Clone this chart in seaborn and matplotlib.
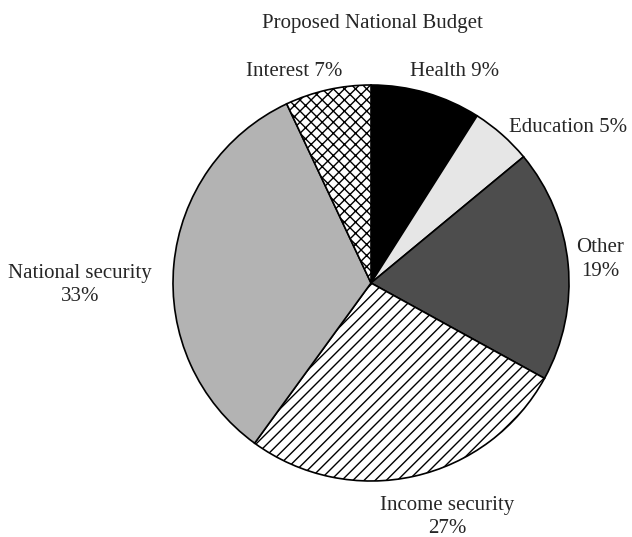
import matplotlib
matplotlib.use("Agg")
import matplotlib.pyplot as plt
import seaborn as sns

# budget shares, clockwise from 12 o'clock
categories = ["Health", "Education", "Other", "Income security", "National security", "Interest"]
shares = [9, 5, 19, 27, 33, 7]
colors = ["#000000", "#e6e6e6", "#4d4d4d", "#ffffff", "#b3b3b3", "#ffffff"]
hatches = ["", "", "", "///", "", "xxx"]
label_texts = ["Health 9%", "Education 5%", "Other\n19%", "Income security\n27%",
               "National security\n33%", "Interest 7%"]
title = "Proposed National Budget"

sns.set_style("white")
plt.rcParams["font.family"] = ["Liberation Serif", "DejaVu Serif"]
plt.rcParams["hatch.linewidth"] = 1.0


def main():
    fig = plt.figure(figsize=(6.32, 5.37), dpi=100)
    ax = fig.add_axes([0, 0, 1, 1])
    wedges, _ = ax.pie(shares, colors=colors, startangle=90, counterclock=False,
                       wedgeprops=dict(edgecolor="black", linewidth=1.2))
    for w, h in zip(wedges, hatches):
        if h:
            w.set_hatch(h)

    # label placement (data units, pie radius = 1)
    label_pos = [(0.424, 1.07), (0.997, 0.783), (1.157, 0.119), (0.386, -1.18),
                 (-1.47, -0.01), (-0.386, 1.07)]
    for txt, (x, y) in zip(label_texts, label_pos):
        ax.text(x, y, txt, ha="center", va="center", fontsize=15, linespacing=1.3)

    ax.set_xlim(-371 / 198, 261 / 198)
    ax.set_ylim(-254 / 198, 283 / 198)
    ax.set_aspect("auto")
    ax.axis("off")
    fig.text(372 / 632, 1 - 23.5 / 537, title, ha="center", va="center", fontsize=15)

    fig.savefig("out.png", dpi=100)


if __name__ == "__main__":
    main()
